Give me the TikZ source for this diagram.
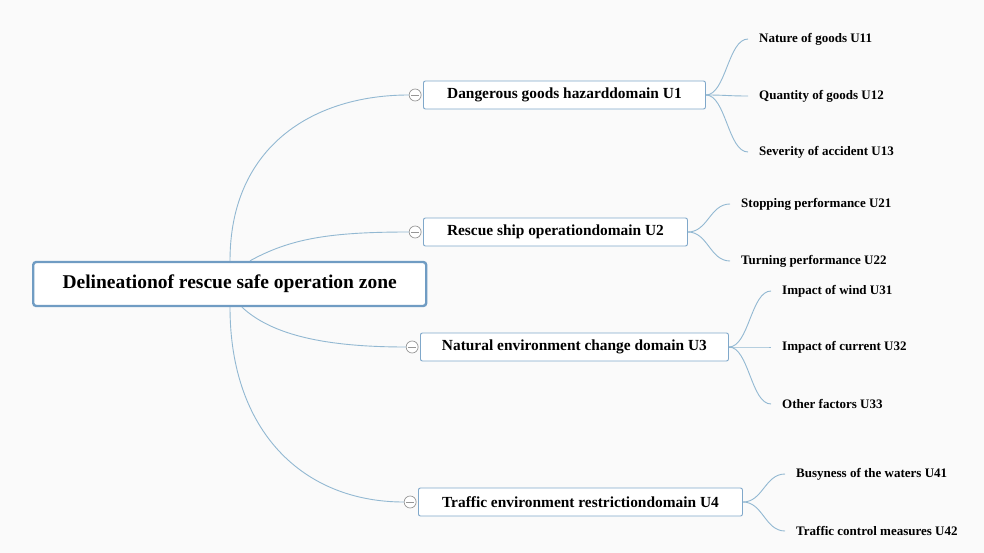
\documentclass[tikz,border=0pt]{standalone}
\usepackage{fontspec}
\setmainfont{Liberation Serif}
\usetikzlibrary{positioning}
\definecolor{bgray}{RGB}{250,250,250}
\definecolor{linkblue}{RGB}{146,184,210}
\definecolor{boxblue}{RGB}{128,168,202}
\definecolor{rootblue}{RGB}{112,156,195}
\definecolor{foldgray}{RGB}{150,150,150}
\tikzset{%
  rootbox/.style   = {draw = rootblue, line width = 2.4pt, rounded corners = 3pt,
    fill = white, minimum height = 44pt, inner xsep = 4pt,
    font = \fontsize{19.5}{22}\selectfont\bfseries, anchor = west},
  domainbox/.style = {draw = boxblue, line width = 0.9pt, rounded corners = 2pt,
    fill = white, minimum height = 28pt, inner xsep = 4pt,
    font = \fontsize{15.4}{17}\selectfont\bfseries, anchor = west},
  leaf/.style      = {inner xsep = 11pt, inner ysep = 2pt, anchor = west,
    font = \fontsize{13}{15}\selectfont\bfseries},
  fold/.style      = {circle, draw = foldgray, line width = 0.7pt, fill = white,
    minimum size = 12pt, inner sep = 0pt,
    path picture = {\draw[foldgray, line width = 0.7pt]
      ([xshift = 2pt]path picture bounding box.west) --
      ([xshift = -2pt]path picture bounding box.east);}},
  link/.style      = {draw = linkblue, line width = 0.9pt}
}
\begin{document}
\begin{tikzpicture}[x = 1pt, y = -1pt]
\fill[bgray] (0,0) rectangle (984,553);
\useasboundingbox (0,0) rectangle (984,553);
%root and domains
\draw
	(32,284) node [rootbox, minimum width = 393pt] (root) {Delineationof rescue safe operation zone}
	(423,95) node [domainbox, minimum width = 282pt] (d1) {Dangerous goods hazarddomain U1}
	(423,232) node [domainbox, minimum width = 264pt] (d2) {Rescue ship operationdomain U2}
	(420,347) node [domainbox, minimum width = 308pt] (d3) {Natural environment change domain U3}
	(418,502) node [domainbox, minimum width = 324pt] (d4) {Traffic environment restrictiondomain U4};
\node [fold, left = 1.5pt of d1] (f1) {};
\node [fold, left = 1.5pt of d2] (f2) {};
\node [fold, left = 1.5pt of d3] (f3) {};
\node [fold, left = 1.5pt of d4] (f4) {};
%leaves
\draw
	(748,39) node [leaf] (l11) {Nature of goods U11}
	(748,96) node [leaf] (l12) {Quantity of goods U12}
	(748,152) node [leaf] (l13) {Severity of accident U13}
	(730,204) node [leaf] (l21) {Stopping performance U21}
	(730,261) node [leaf] (l22) {Turning performance U22}
	(771,291) node [leaf] (l31) {Impact of wind U31}
	(771,347) node [leaf] (l32) {Impact of current U32}
	(771,404) node [leaf] (l33) {Other factors U33}
	(785,474) node [leaf] (l41) {Busyness of the waters U41}
	(785,531) node [leaf] (l42) {Traffic control measures U42};
%root to domains
\path[link] ([xshift = 198pt]root.north west) .. controls +(0,-115) and +(-95,0) .. (f1.west);
\path[link] ([xshift = 218pt]root.north west) .. controls +(40,-22) and +(-80,0) .. (f2.west);
\path[link] ([xshift = 210pt]root.south west) .. controls +(30,28) and +(-80,0) .. (f3.west);
\path[link] ([xshift = 198pt]root.south west) .. controls +(0,125) and +(-100,0) .. (f4.west);
%domains to leaves
\foreach \d/\l in {d1/l11, d1/l12, d1/l13, d2/l21, d2/l22, d3/l31, d3/l32, d3/l33, d4/l41, d4/l42}
  \path[link] (\d.east) .. controls +(20,0) and +(-20,0) .. (\l.west);
\end{tikzpicture}
\end{document}
